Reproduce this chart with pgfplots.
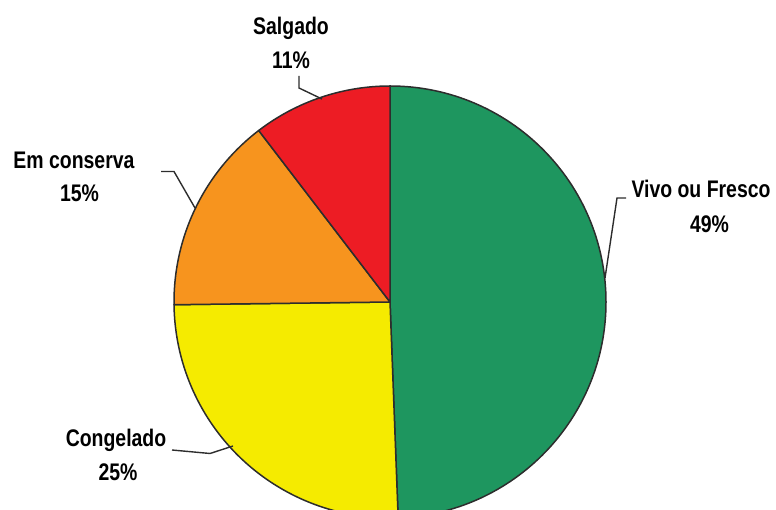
\documentclass[border=0pt]{standalone}
\usepackage{pgfplots}
\pgfplotsset{compat=1.18}
\usepackage{pgfplotstable}
\usepackage{fontspec}
\setmainfont{Liberation Sans}
\definecolor{cGreen}{RGB}{30,150,95}
\definecolor{cYellow}{RGB}{245,235,0}
\definecolor{cOrange}{RGB}{247,148,30}
\definecolor{cRed}{RGB}{237,28,36}
\definecolor{cLine}{RGB}{45,45,45}
% share (percent), clockwise from 12 o'clock
\pgfplotstableread{
name value
Vivo 49.4
Congelado 25.4
Conserva 14.8
Salgado 10.4
}\piedata
\pgfplotstablegetelem{0}{value}\of\piedata \let\vA\pgfplotsretval
\pgfplotstablegetelem{1}{value}\of\piedata \let\vB\pgfplotsretval
\pgfplotstablegetelem{2}{value}\of\piedata \let\vC\pgfplotsretval
\pgfplotstablegetelem{3}{value}\of\piedata \let\vD\pgfplotsretval
\pgfmathsetmacro\aA{90}
\pgfmathsetmacro\aB{\aA-3.6*\vA}
\pgfmathsetmacro\aC{\aB-3.6*\vB}
\pgfmathsetmacro\aD{\aC-3.6*\vC}
\pgfmathsetmacro\aE{\aD-3.6*\vD}
\newcommand\lbl[1]{\scalebox{0.81}[1]{\bfseries\fontsize{24bp}{28bp}\selectfont #1}}
\begin{document}
\begin{tikzpicture}
\begin{axis}[
  scale only axis, width=776bp, height=510bp,
  xmin=0, xmax=776, ymin=0, ymax=510, y dir=reverse,
  hide axis, clip=true,
]
\path (axis cs:0,0) rectangle (axis cs:776,510);
\filldraw[overlay, fill=cGreen, draw=cLine, line width=1.5bp, line join=round] (axis cs:390,302) -- ++(\aA:216bp) arc[start angle=\aA, end angle=\aB, radius=216bp] -- cycle;
\filldraw[overlay, fill=cYellow, draw=cLine, line width=1.5bp, line join=round] (axis cs:390,302) -- ++(\aB:216bp) arc[start angle=\aB, end angle=\aC, radius=216bp] -- cycle;
\filldraw[overlay, fill=cOrange, draw=cLine, line width=1.5bp, line join=round] (axis cs:390,302) -- ++(\aC:216bp) arc[start angle=\aC, end angle=\aD, radius=216bp] -- cycle;
\filldraw[overlay, fill=cRed, draw=cLine, line width=1.5bp, line join=round] (axis cs:390,302) -- ++(\aD:216bp) arc[start angle=\aD, end angle=\aE, radius=216bp] -- cycle;
% leader lines
\draw[cLine, line width=1.4bp] (axis cs:299,76) -- (axis cs:299,88) -- (axis cs:322,99);
\draw[cLine, line width=1.4bp] (axis cs:161,171.5) -- (axis cs:174,171.5) -- (axis cs:195,208);
\draw[cLine, line width=1.4bp] (axis cs:626,198) -- (axis cs:617,198) -- (axis cs:605,278);
\draw[cLine, line width=1.4bp] (axis cs:172,450) -- (axis cs:210,453.5) -- (axis cs:233,446);
% labels
\node[anchor=base] at (axis cs:291,35) {\lbl{Salgado}};
\node[anchor=base] at (axis cs:291,69) {\lbl{11\%}};
\node[anchor=base] at (axis cs:74,168.5) {\lbl{Em conserva}};
\node[anchor=base] at (axis cs:79.5,201.5) {\lbl{15\%}};
\node[anchor=base] at (axis cs:701,197.5) {\lbl{Vivo ou Fresco}};
\node[anchor=base] at (axis cs:709.5,232.5) {\lbl{49\%}};
\node[anchor=base] at (axis cs:116,446.5) {\lbl{Congelado}};
\node[anchor=base] at (axis cs:118,481) {\lbl{25\%}};
\end{axis}
\end{tikzpicture}
\end{document}
